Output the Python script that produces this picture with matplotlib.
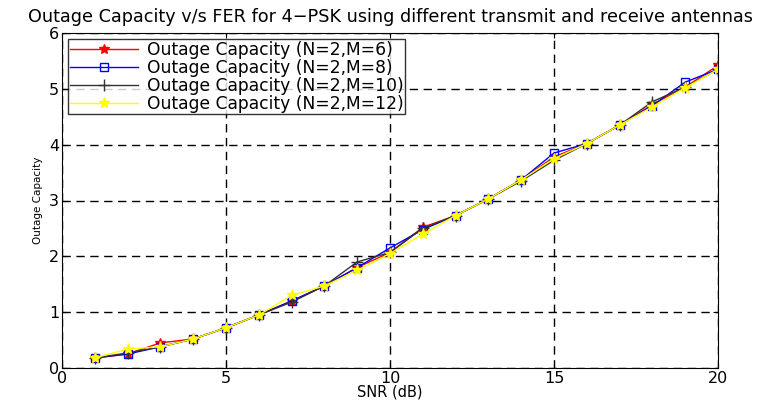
import numpy as np
import matplotlib.pyplot as plt

plt.rcParams['font.family'] = ['DejaVu Sans']

snr = [1, 2, 3, 4, 5, 6, 7, 8, 9, 10, 11, 12, 13, 14, 15, 16, 17, 18, 19, 20]
cap_m6 = [0.18, 0.25, 0.45, 0.52, 0.72, 0.95, 1.20, 1.47, 1.80, 2.07, 2.52, 2.73, 3.03, 3.37, 3.78, 4.02, 4.35, 4.72, 5.03, 5.42]
cap_m8 = [0.18, 0.25, 0.38, 0.52, 0.72, 0.95, 1.20, 1.47, 1.80, 2.15, 2.48, 2.73, 3.03, 3.37, 3.85, 4.02, 4.35, 4.70, 5.12, 5.35]
cap_m10 = [0.18, 0.27, 0.38, 0.52, 0.72, 0.95, 1.18, 1.47, 1.90, 2.07, 2.50, 2.73, 3.03, 3.35, 3.72, 4.02, 4.35, 4.77, 5.03, 5.35]
cap_m12 = [0.18, 0.34, 0.38, 0.52, 0.72, 0.95, 1.30, 1.47, 1.75, 2.05, 2.40, 2.73, 3.03, 3.37, 3.75, 4.02, 4.35, 4.68, 5.02, 5.35]
labels = ['Outage Capacity (N=2,M=6)', 'Outage Capacity (N=2,M=8)',
          'Outage Capacity (N=2,M=10)', 'Outage Capacity (N=2,M=12)']

fig = plt.figure(figsize=(7.6, 4.03), dpi=100)
ax = fig.add_axes([62/760, 35/403, 656/760, 335/403])

ax.plot(snr, cap_m6, color='red', marker='*', markersize=7, lw=1, label=labels[0])
ax.plot(snr, cap_m8, color='blue', marker='s', markersize=6, mfc='none', lw=1, label=labels[1])
ax.plot(snr, cap_m10, color='#333333', marker='+', markersize=8, lw=1, label=labels[2])
ax.plot(snr, cap_m12, color='yellow', marker='*', markersize=8, lw=1, label=labels[3])

ax.set_xlim(0, 20)
ax.set_ylim(0, 6)
ax.set_xticks([0, 5, 10, 15, 20])
ax.set_yticks([0, 1, 2, 3, 4, 5, 6])
ax.grid(True, color='black', linestyle=(0, (6, 4)), linewidth=1)
ax.tick_params(direction='in', top=True, right=True, labelsize=11.5, pad=2)
ax.set_xlabel('SNR (dB)', fontsize=10.5, labelpad=-1)
ax.set_ylabel('Outage Capacity', fontsize=7.5, labelpad=4)
ax.set_title('Outage Capacity v/s FER for 4\u2212PSK using different transmit and receive antennas',
             fontsize=12.7, pad=8)
leg = ax.legend(loc='upper left', prop={'size': 12.3}, fancybox=False, edgecolor='black',
                borderpad=0.1, labelspacing=0.0, handlelength=4.0, handletextpad=0.5,
                borderaxespad=0.35)
leg.get_frame().set_linewidth(1)

plt.savefig('out.png', dpi=100)
